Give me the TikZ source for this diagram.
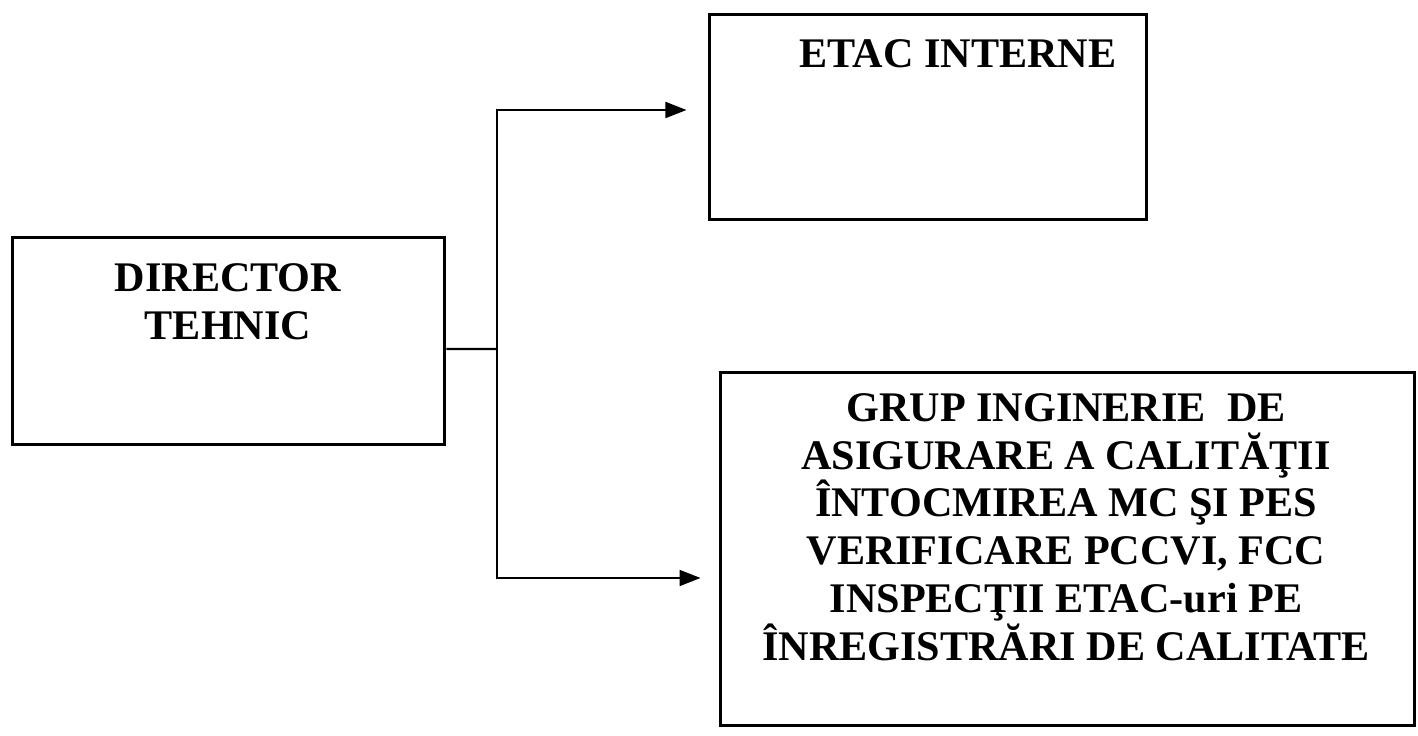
\documentclass[tikz,border=0pt]{standalone}
\usepackage{fontspec}
\setmainfont{Liberation Serif}
\usetikzlibrary{arrows.meta,positioning}
\newcommand\boxfont{\fontsize{24}{27.2}\selectfont\bfseries\lineskiplimit=-50pt\relax}

\begin{document}
\begin{tikzpicture}[
    x=0.02cm, y=-0.02cm,
    unitbox/.style={rectangle, draw=black, line width=1.7pt, inner sep=0pt},
    boxtext/.style={anchor=north, align=center, inner sep=0pt, font=\boxfont},
    arrow/.style={-{Triangle[length=12pt,width=9pt]}, line width=1.4pt, draw=black}
]
    \useasboundingbox (0,0) rectangle (1418,736);

    \node [unitbox, minimum width=8.66cm, minimum height=4.16cm] (dir) at (228.5,341) {};
    \node [unitbox, minimum width=8.76cm, minimum height=4.12cm] (etac) at (928,117) {};
    \node [unitbox, minimum width=13.9cm, minimum height=7.08cm] (grup) at (1067.5,549) {};

    \node [boxtext] (dirtext) at (228,263) {DIRECTOR\\TEHNIC};
    \node [boxtext] (etactext) at (958,39) {ETAC INTERNE};
    \node [boxtext] (gruptext) at (1066,393)
        {GRUP INGINERIE\ \ DE\\ASIGURARE A CALITĂŢII\\ÎNTOCMIREA MC ŞI PES\\VERIFICARE PCCVI, FCC\\INSPECŢII ETAC-uri PE\\ÎNREGISTRĂRI DE CALITATE};

    \coordinate (fork) at (497,349);
    \draw [line width=1.4pt] ([yshift=-0.16cm]dir.east) -- (fork);
    \draw [arrow, shorten >=0.42cm] (fork) |- ([yshift=0.14cm]etac.west);
    \draw [arrow, shorten >=0.36cm] (fork) |- ([yshift=-0.58cm]grup.west);
\end{tikzpicture}
\end{document}
